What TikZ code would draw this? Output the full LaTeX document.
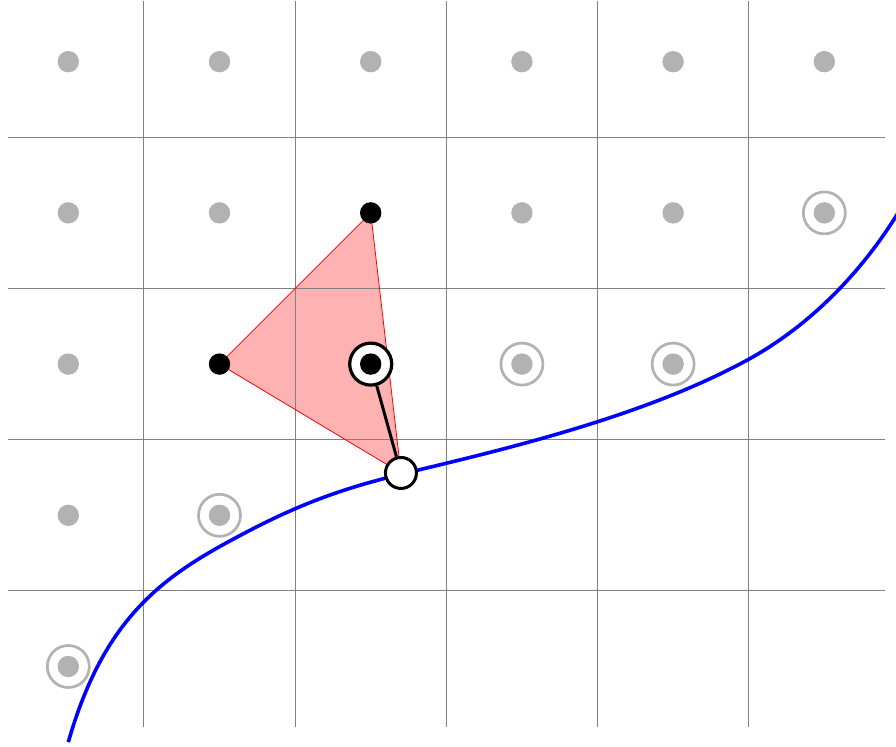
\documentclass[tikz,border=0pt]{standalone}
\begin{document}
\begin{tikzpicture}[x=151.2pt,y=151.2pt,
  gdot/.style={circle,fill=black!30,inner sep=0pt,minimum size=21.4pt},
  bdot/.style={circle,fill=black,inner sep=0pt,minimum size=21.4pt},
  gring/.style={circle,draw=black!30,line width=2.7pt,inner sep=0pt,minimum size=42pt},
  bring/.style={circle,draw=black,fill=white,line width=3.2pt,inner sep=0pt,minimum size=42pt},
  wpt/.style={circle,draw=black,fill=white,line width=3pt,inner sep=0pt,minimum size=31pt},
  gridline/.style={black!50,line width=0.9pt},
  trifill/.style={fill=red!30},
  triedge/.style={draw=red,line width=0.8pt,line join=round},
  curve/.style={blue,line width=3.6pt},
  link/.style={black,line width=3pt}]
\useasboundingbox (-0.4517,-0.526) rectangle (5.474,4.408);
\clip (-0.4517,-0.526) rectangle (5.474,4.408);
% key points
\coordinate (A) at (2,3);
\coordinate (B) at (1,2);
\coordinate (C) at (2.2,1.28);
% triangle fill
\fill[trifill] (A) -- (B) -- (C) -- cycle;
% grid
\foreach \x in {0.5,1.5,2.5,3.5,4.5}
  \draw[gridline] (\x,-0.4) -- (\x,4.4);
\foreach \y in {0.5,1.5,2.5,3.5}
  \draw[gridline] (-0.4,\y) -- (5.4,\y);
% triangle edges
\draw[triedge] (A) -- (B) -- (C) -- cycle;
% gray rings
\foreach \p/\n in {{(5,3)}/r1,{(3,2)}/r2,{(4,2)}/r3,{(1,1)}/r4,{(0,0)}/r5}
  \node[gring] (\n) at \p {};
% gray dots
\foreach \x/\y in {0/4,1/4,2/4,3/4,4/4,5/4,0/3,1/3,3/3,4/3,5/3,0/2,3/2,4/2,0/1,1/1,0/0}
  \node[gdot] (g\x\y) at (\x,\y) {};
% curve
\draw[curve] (0,-0.5) .. controls (0.2475,0.366) and (0.668,0.623) .. (1.2,0.9)
  .. controls (1.688,1.154) and (2.01,1.226) .. (2.4,1.32)
  .. controls (3.08,1.483) and (3.887,1.695) .. (4.5,2.032)
  .. controls (4.912,2.259) and (5.257,2.618) .. (5.5,3.02);
% black points
\node[bdot] (pa) at (A) {};
\node[bdot] (pb) at (B) {};
\node[bring] (ring) at (2,2) {};
\node[wpt] (pc) at (C) {};
\draw[link] (ring) -- (pc);
\node[bdot] (pd) at (ring) {};
\end{tikzpicture}
\end{document}
